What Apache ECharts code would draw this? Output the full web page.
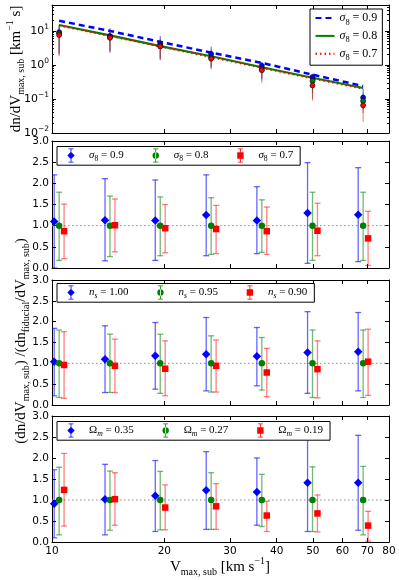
<!DOCTYPE html>
<html><head><meta charset="utf-8">
<script src="https://cdn.jsdelivr.net/npm/echarts@6/dist/echarts.min.js"></script>
<style>html,body{margin:0;padding:0;background:#fff}#c{width:399px;height:580px}</style>
</head><body><div id="c"></div>
<script>
// ---------------- data ----------------
const binCenters = [10.45, 14.3, 19.5, 26.7, 36.5, 49.9, 68.2];
const xTickValues = [10, 20, 30, 40, 50, 60, 70, 80];
const topYMajor = [0.01, 0.1, 1, 10];
const topYMinor = [0.02,0.03,0.04,0.05,0.06,0.07,0.08,0.09,0.2,0.3,0.4,0.5,0.6,0.7,0.8,0.9,2,3,4,5,6,7,8,9,20,30,40,50];

// top panel: model curves
const topLine09 = [20, 10, 4.8, 2.3, 1.15, 0.52, 0.24];
const topLine08 = [15, 7.4, 3.6, 1.8, 0.86, 0.42, 0.21];
const topLine07 = [14.5, 7.1, 3.5, 1.7, 0.83, 0.40, 0.20];
// top panel: measured points with error ranges
const topPts09 = [9.2, 7.1, 4.3, 2.1, 0.95, 0.44, 0.11];
const topLo09  = [2.2, 2.3, 1.4, 0.89, 0.41, 0.15, 0.05];
const topHi09  = [15, 12, 7.1, 3.5, 1.2, 0.55, 0.2];
const topPts08 = [8.5, 6.5, 3.7, 1.64, 0.76, 0.34, 0.087];
const topLo08  = [2.0, 2.6, 1.6, 0.8, 0.35, 0.1, 0.039];
const topHi08  = [14, 10, 6, 2.8, 1.2, 0.5, 0.15];
const topPts07 = [7.6, 6.3, 3.5, 1.53, 0.70, 0.25, 0.065];
const topLo07  = [1.8, 2.5, 1.5, 0.75, 0.3, 0.09, 0.021];
const topHi07  = [13, 9.5, 5.5, 2.6, 1.1, 0.45, 0.12];

// sigma8 ratio panel
const s09Mean = [1.10, 1.13, 1.12, 1.25, 1.12, 1.30, 1.26];
const s09Lo   = [0.00, 0.17, 0.18, 0.29, 0.34, 0.11, 0.15];
const s09Hi   = [2.20, 2.11, 2.08, 2.20, 1.92, 2.49, 2.37];
const s08Mean = [1.00, 1.00, 1.00, 1.00, 1.00, 1.00, 1.00];
const s08Lo   = [0.18, 0.27, 0.29, 0.32, 0.37, 0.18, 0.18];
const s08Hi   = [1.79, 1.70, 1.68, 1.66, 1.61, 1.79, 1.79];
const s07Mean = [0.87, 1.01, 0.94, 0.92, 0.87, 0.88, 0.70];
const s07Lo   = [0.22, 0.38, 0.36, 0.34, 0.32, 0.29, 0.06];
const s07Hi   = [1.51, 1.63, 1.50, 1.48, 1.44, 1.53, 1.34];

// n_s ratio panel
const n100Mean = [1.04, 1.10, 1.18, 1.22, 1.17, 1.26, 1.28];
const n100Lo   = [0.22, 0.30, 0.38, 0.34, 0.46, 0.28, 0.34];
const n100Hi   = [1.84, 1.90, 1.98, 2.10, 1.86, 2.24, 2.22];
const n095Mean = [1.00, 1.00, 1.00, 1.00, 1.00, 1.00, 1.00];
const n095Lo   = [0.18, 0.30, 0.28, 0.31, 0.36, 0.18, 0.18];
const n095Hi   = [1.80, 1.70, 1.70, 1.66, 1.62, 1.80, 1.80];
const n090Mean = [0.96, 0.94, 0.87, 0.94, 0.78, 0.86, 1.04];
const n090Lo   = [0.16, 0.30, 0.22, 0.31, 0.20, 0.17, 0.23];
const n090Hi   = [1.76, 1.58, 1.54, 1.56, 1.36, 1.54, 1.82];

// Omega_m ratio panel
const o035Mean = [0.91, 1.02, 1.10, 1.23, 1.19, 1.41, 1.41];
const o035Lo   = [0.10, 0.17, 0.25, 0.30, 0.40, 0.25, 0.28];
const o035Hi   = [1.72, 1.85, 1.94, 2.15, 2.00, 2.62, 2.54];
const o027Mean = [1.00, 1.00, 1.00, 1.00, 1.00, 1.00, 1.00];
const o027Lo   = [0.17, 0.28, 0.29, 0.30, 0.37, 0.25, 0.17];
const o027Hi   = [1.78, 1.69, 1.68, 1.65, 1.61, 1.79, 1.80];
const o019Mean = [1.24, 1.02, 0.82, 0.85, 0.63, 0.68, 0.39];
const o019Lo   = [0.38, 0.40, 0.29, 0.30, 0.25, 0.24, 0.02];
const o019Hi   = [2.11, 1.65, 1.36, 1.39, 0.97, 1.12, 0.73];

const fiducialRatio = 1.0;

// ---------------- styling ----------------
const BLUE = '#0000ff', GREEN = '#008000', RED = '#ff0000';
const BLUE_E = 'rgba(0,0,255,0.6)', GREEN_E = 'rgba(0,128,0,0.55)', RED_E = 'rgba(255,0,0,0.5)';
const AX = '#000';
const SERIF = 'Liberation Serif';
const tickFont = {fontFamily: 'DejaVu Sans', fontSize: 10.5, color: '#000'};
const shiftFactor = 1.031;

const legendText = {
  top09: '{i|σ}{sb|8}{r| = 0.9}', top08: '{i|σ}{sb|8}{r| = 0.8}', top07: '{i|σ}{sb|8}{r| = 0.7}',
  s09: '{i|σ}{sb|8}{r| = 0.9}', s08: '{i|σ}{sb|8}{r| = 0.8}', s07: '{i|σ}{sb|8}{r| = 0.7}',
  n100: '{i|n}{sbi|s}{r| = 1.00}', n095: '{i|n}{sbi|s}{r| = 0.95}', n090: '{i|n}{sbi|s}{r| = 0.90}',
  o035: '{r|Ω}{sbi|m}{r| = 0.35}', o027: '{r|Ω}{sbi|m}{r| = 0.27}', o019: '{r|Ω}{sbi|m}{r| = 0.19}'
};
function legRich(fs) {
  return {
    r: {fontFamily: SERIF, fontSize: fs, lineHeight: fs * 1.4},
    i: {fontFamily: SERIF, fontSize: fs, fontStyle: 'italic', lineHeight: fs * 1.4},
    sb: {fontFamily: SERIF, fontSize: fs * 0.7, verticalAlign: 'bottom', lineHeight: fs * 0.8},
    sbi: {fontFamily: SERIF, fontSize: fs * 0.7, fontStyle: 'italic', verticalAlign: 'bottom', lineHeight: fs * 0.8}
  };
}

// legend handles: error bar + marker, drawn inside a 26x14 box (invisible moves set the box)
const PAD = 'M-9,0 M17,14 ';
const BAR = 'M3.6,0H4.4V14H3.6Z M1.5,0H6.5V0.8H1.5Z M1.5,13.2H6.5V14H1.5Z ';
const ICON_D = 'path://' + PAD + BAR + 'M4,3.3L7.7,7L4,10.7L0.3,7Z';
const ICON_C = 'path://' + PAD + BAR + 'M0.8,7A3.2,3.2 0 1,0 7.2,7A3.2,3.2 0 1,0 0.8,7Z';
const ICON_S = 'path://' + PAD + BAR + 'M0.8,3.8H7.2V10.2H0.8Z';

// ---------------- layout ----------------
const grids = [
  {left: 52, right: 10, top: 5, height: 128},
  {left: 52, right: 10, top: 141, height: 127},
  {left: 52, right: 10, top: 280, height: 125},
  {left: 52, right: 10, top: 416, height: 126}
].map(g => Object.assign({outerBoundsMode: 'none', containLabel: false}, g));

const xAxis = [];
grids.forEach((g, gi) => {
  const last = gi === grids.length - 1;
  ['bottom', 'top'].forEach(pos => {
    xAxis.push({
      type: 'log', logBase: 10, gridIndex: gi, position: pos, min: 10, max: 80,
      axisLine: {show: true, onZero: false, lineStyle: {color: AX, width: 1}},
      axisTick: {show: true, inside: true, length: 4, customValues: xTickValues, lineStyle: {color: AX, width: 1}},
      axisLabel: Object.assign({show: last && pos === 'bottom', customValues: xTickValues, margin: 4,
        showMinLabel: true, showMaxLabel: true, formatter: v => String(Math.round(v))}, tickFont),
      splitLine: {show: false}, minorTick: {show: false}, minorSplitLine: {show: false}
    });
  });
});

const yAxis = [];
['left', 'right'].forEach(pos => {
  yAxis.push({
    type: 'log', logBase: 10, gridIndex: 0, position: pos, min: 0.01, max: 58,
    axisLine: {show: true, onZero: false, lineStyle: {color: AX, width: 1}},
    axisTick: {show: true, inside: true, length: 4, customValues: topYMajor, lineStyle: {color: AX}},
    axisLabel: {show: pos === 'left', customValues: topYMajor, margin: 3, color: '#000',
      formatter: v => { const e = Math.round(Math.log10(v)); return '{b|10}{s|' + (e < 0 ? '−' + (-e) : e) + '}'; },
      rich: {b: {fontFamily: 'DejaVu Sans', fontSize: 11, lineHeight: 15, color: '#000'},
             s: {fontFamily: 'DejaVu Sans', fontSize: 7.5, verticalAlign: 'top', lineHeight: 9, color: '#000'}}},
    splitLine: {show: false}
  });
});
['left', 'right'].forEach(pos => {
  yAxis.push({
    type: 'log', logBase: 10, gridIndex: 0, position: pos, min: 0.01, max: 58,
    axisLine: {show: false},
    axisTick: {show: true, inside: true, length: 2, customValues: topYMinor, lineStyle: {color: AX}},
    axisLabel: {show: false}, splitLine: {show: false}
  });
});
for (let gi = 1; gi <= 3; gi++) {
  ['left', 'right'].forEach(pos => {
    yAxis.push({
      type: 'value', gridIndex: gi, position: pos, min: 0, max: 3, interval: 0.5,
      axisLine: {show: true, onZero: false, lineStyle: {color: AX, width: 1}},
      axisTick: {show: true, inside: true, length: 4, lineStyle: {color: AX}},
      axisLabel: Object.assign({show: pos === 'left', margin: 3, showMinLabel: true, showMaxLabel: true,
        formatter: v => v.toFixed(1)}, tickFont),
      splitLine: {show: false}
    });
  });
}

// ---------------- series ----------------
function errRender(color, capHalf, lw) {
  return function (params, api) {
    const x = api.value(0), lo = api.value(1), hi = api.value(2);
    const a = api.coord([x, hi]), b = api.coord([x, lo]);
    const st = {stroke: color, lineWidth: lw, fill: null};
    const ch = [{type: 'line', shape: {x1: a[0], y1: a[1], x2: b[0], y2: b[1]}, style: st}];
    if (capHalf > 0) {
      ch.push({type: 'line', shape: {x1: a[0] - capHalf, y1: a[1], x2: a[0] + capHalf, y2: a[1]}, style: st});
      ch.push({type: 'line', shape: {x1: b[0] - capHalf, y1: b[1], x2: b[0] + capHalf, y2: b[1]}, style: st});
    }
    return {type: 'group', children: ch};
  };
}

const series = [];
// top panel
[
  {name: 'top09', vals: topLine09, color: BLUE, width: 2.5, type: [6, 4]},
  {name: 'top08', vals: topLine08, color: GREEN, width: 2.2, type: 'solid'},
  {name: 'top07', vals: topLine07, color: RED, width: 2, type: [1.5, 3]}
].forEach(l => {
  series.push({
    type: 'line', name: l.name, xAxisIndex: 0, yAxisIndex: 0, symbol: 'none', silent: true,
    data: binCenters.map((x, i) => [x, l.vals[i]]),
    lineStyle: {color: l.color, width: l.width, type: l.type}, itemStyle: {color: l.color}, z: 2
  });
});
[
  {pts: topPts09, lo: topLo09, hi: topHi09, color: BLUE, ecol: BLUE_E},
  {pts: topPts08, lo: topLo08, hi: topHi08, color: GREEN, ecol: GREEN_E},
  {pts: topPts07, lo: topLo07, hi: topHi07, color: RED, ecol: RED_E}
].forEach(p => {
  series.push({
    type: 'custom', xAxisIndex: 0, yAxisIndex: 0, silent: true, clip: true, z: 3,
    renderItem: errRender(p.ecol, 0, 1.1),
    data: binCenters.map((x, i) => [x, p.lo[i], p.hi[i]])
  });
  series.push({
    type: 'scatter', xAxisIndex: 0, yAxisIndex: 0, silent: true, symbol: 'circle', symbolSize: 5, z: 3,
    data: binCenters.map((x, i) => [x, p.pts[i]]),
    itemStyle: {color: p.color, borderColor: '#000', borderWidth: 0.6, opacity: 1}
  });
});

// ratio panels
const panels = [
  {grid: 1, sets: [
    {name: 's09', mean: s09Mean, lo: s09Lo, hi: s09Hi, color: BLUE, ecol: BLUE_E, symbol: 'diamond', size: 8.5, shift: -1, icon: ICON_D},
    {name: 's08', mean: s08Mean, lo: s08Lo, hi: s08Hi, color: GREEN, ecol: GREEN_E, symbol: 'circle', size: 6.5, shift: 0, icon: ICON_C},
    {name: 's07', mean: s07Mean, lo: s07Lo, hi: s07Hi, color: RED, ecol: RED_E, symbol: 'rect', size: 6.5, shift: 1, icon: ICON_S}
  ], legendTop: 146.5},
  {grid: 2, sets: [
    {name: 'n100', mean: n100Mean, lo: n100Lo, hi: n100Hi, color: BLUE, ecol: BLUE_E, symbol: 'diamond', size: 8.5, shift: -1, icon: ICON_D},
    {name: 'n095', mean: n095Mean, lo: n095Lo, hi: n095Hi, color: GREEN, ecol: GREEN_E, symbol: 'circle', size: 6.5, shift: 0, icon: ICON_C},
    {name: 'n090', mean: n090Mean, lo: n090Lo, hi: n090Hi, color: RED, ecol: RED_E, symbol: 'rect', size: 6.5, shift: 1, icon: ICON_S}
  ], legendTop: 283.5},
  {grid: 3, sets: [
    {name: 'o035', mean: o035Mean, lo: o035Lo, hi: o035Hi, color: BLUE, ecol: BLUE_E, symbol: 'diamond', size: 8.5, shift: -1, icon: ICON_D},
    {name: 'o027', mean: o027Mean, lo: o027Lo, hi: o027Hi, color: GREEN, ecol: GREEN_E, symbol: 'circle', size: 6.5, shift: 0, icon: ICON_C},
    {name: 'o019', mean: o019Mean, lo: o019Lo, hi: o019Hi, color: RED, ecol: RED_E, symbol: 'rect', size: 6.5, shift: 1, icon: ICON_S}
  ], legendTop: 421.5}
];

const legends = [{
  orient: 'vertical', left: 310, top: 9, data: ['top09', 'top08', 'top07'],
  itemWidth: 19, itemHeight: 12, itemGap: 3.5, padding: [3, 5, 3, 4.5],
  itemStyle: {color: 'rgba(0,0,0,0)', borderColor: 'rgba(0,0,0,0)', borderWidth: 0, opacity: 0},
  borderColor: '#000', borderWidth: 1, backgroundColor: '#fff', borderRadius: 0, selectedMode: false,
  formatter: n => legendText[n], textStyle: {color: '#000', fontFamily: SERIF, fontSize: 12, rich: legRich(12)}
}];

panels.forEach(p => {
  const xi = 2 * p.grid, yi = 4 + 2 * (p.grid - 1);
  series.push({
    type: 'line', xAxisIndex: xi, yAxisIndex: yi, symbol: 'none', silent: true, z: 1,
    data: [[10, fiducialRatio], [80, fiducialRatio]],
    lineStyle: {color: '#8c8c8c', width: 1, type: [1.5, 2.5]}
  });
  p.sets.forEach(s => {
    const xs = binCenters.map(x => x * Math.pow(shiftFactor, s.shift));
    series.push({
      type: 'custom', xAxisIndex: xi, yAxisIndex: yi, silent: true, clip: true, z: 2,
      renderItem: errRender(s.ecol, 3, 1.3),
      data: xs.map((x, i) => [x, s.lo[i], s.hi[i]])
    });
    series.push({
      type: 'scatter', name: s.name, xAxisIndex: xi, yAxisIndex: yi, silent: true, z: 2,
      symbol: s.symbol, symbolSize: s.size,
      data: xs.map((x, i) => [x, s.mean[i]]),
      itemStyle: {color: s.color, opacity: 1}
    });
  });
  legends.push({
    orient: 'horizontal', left: 57, top: p.legendTop,
    data: p.sets.map(s => ({name: s.name, icon: s.icon})),
    itemWidth: 26, itemHeight: 14, itemGap: 19, padding: [2, 7, 2, 1],
    borderColor: '#000', borderWidth: 1, backgroundColor: '#fff', borderRadius: 0, selectedMode: false,
    formatter: n => legendText[n], textStyle: {color: '#000', fontFamily: SERIF, fontSize: 11, rich: legRich(11)}
  });
});

// axis titles
const nameRich = {
  r: {fontFamily: SERIF, fontSize: 15, lineHeight: 21, color: '#000'},
  sb: {fontFamily: SERIF, fontSize: 10, verticalAlign: 'bottom', lineHeight: 11, color: '#000'},
  sp: {fontFamily: SERIF, fontSize: 10, verticalAlign: 'top', lineHeight: 11, color: '#000'}
};
const graphic = [
  {type: 'text', x: 16, y: 69, rotation: Math.PI / 2, silent: true,
   style: {text: '{r|dn/dV}{sb|max, sub}{r| [km}{sp|−1}{r| s]}', rich: nameRich, align: 'center', verticalAlign: 'middle'}},
  {type: 'text', x: 21, y: 341, rotation: Math.PI / 2, silent: true,
   style: {text: '{r|(dn/dV}{sb|max, sub}{r|) /(dn}{sb|fiducial}{r|/dV}{sb|max, sub}{r|)}', rich: nameRich, align: 'center', verticalAlign: 'middle'}},
  {type: 'text', x: 220, y: 567, silent: true,
   style: {text: '{r|V}{sb|max, sub}{r| [km s}{sp|−1}{r|]}', rich: nameRich, align: 'center', verticalAlign: 'middle'}}
];

const chart = echarts.init(document.getElementById('c'), null, {renderer: 'canvas', width: 399, height: 580});
chart.setOption({
  animation: false,
  backgroundColor: '#fff',
  grid: grids, xAxis: xAxis, yAxis: yAxis, series: series, legend: legends, graphic: graphic
});
</script></body></html>
